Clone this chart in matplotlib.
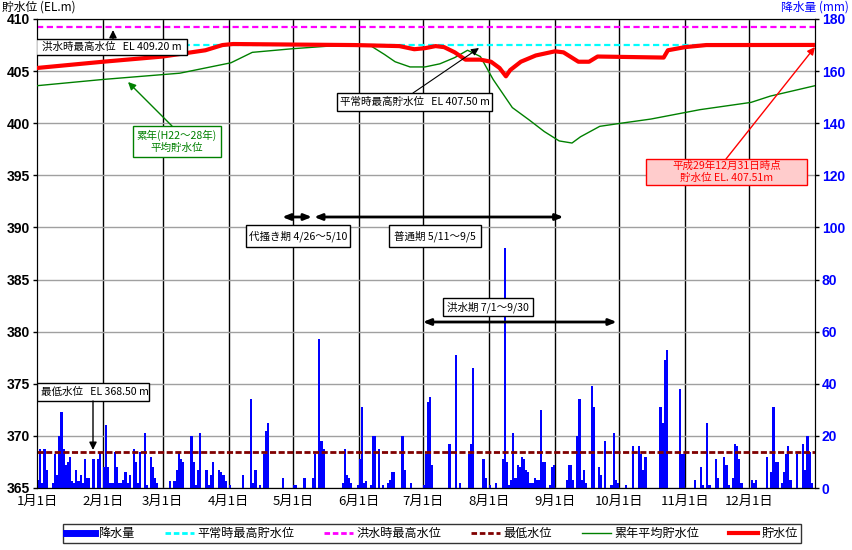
import matplotlib
matplotlib.use('Agg')
import matplotlib.pyplot as plt
from matplotlib.lines import Line2D
from matplotlib.patches import Rectangle
import numpy as np

plt.rcParams['font.family'] = ['Noto Sans CJK JP', 'DejaVu Sans']

# ---------------- data ----------------
month_starts = [0, 31, 59, 90, 120, 151, 181, 212, 243, 273, 304, 334]
month_labels = ['1月1日', '2月1日', '3月1日', '4月1日', '5月1日', '6月1日',
                '7月1日', '8月1日', '9月1日', '10月1日', '11月1日', '12月1日']

# daily rainfall (day of year, mm)
rain_days = [1, 2, 3, 4, 5, 8, 9, 10, 11, 12, 13, 14, 15, 16, 17, 18, 19, 20, 21, 22, 23, 24, 25, 27, 29, 30,
             32, 33, 34, 35, 36, 37, 38, 39, 40, 41, 42, 43, 44, 46, 47, 48, 49, 51, 52, 54, 55, 56, 57,
             63, 65, 66, 67, 68, 69, 73, 74, 75, 76, 77, 80, 81, 82, 83, 86, 87, 88, 89,
             91, 97, 101, 102, 103, 105, 107, 108, 109, 116,
             121, 122, 126, 130, 131, 133, 134, 135, 144, 145, 146, 147, 148, 151,
             152, 153, 154, 155, 157, 158, 159, 161, 163, 165, 166, 167, 168, 172, 173, 176,
             182, 183, 184, 185, 186, 194, 197, 199, 203, 204, 205, 210, 211,
             213, 216, 219, 220, 221, 222, 223, 224, 225, 226, 227, 228, 229, 230, 231, 232, 233, 234, 235,
             236, 237, 238, 239, 241, 242, 243,
             249, 250, 251, 252, 254, 255, 256, 257, 258, 261, 262, 264, 265, 267, 270, 271, 272, 273,
             277, 280, 283, 284, 285, 286, 293, 294, 295, 296, 302, 303, 304,
             309, 312, 313, 315, 316, 319, 320, 323, 324, 325, 327, 328, 329, 330, 331,
             336, 337, 338, 343, 345, 346, 347, 348, 350, 351, 352, 353, 354, 357, 360, 361, 362, 363, 364]
rain_mm = [3, 15, 2, 15, 7, 2, 13, 5, 20, 29, 15, 9, 10, 12, 2.5, 2, 7, 2.5, 5, 2, 11, 4, 4, 11, 11, 14,
           8, 24, 8, 2, 2, 14, 8, 2, 2, 3, 6, 2, 5, 15, 10, 2, 14, 21, 1, 12, 8, 4, 2,
           2.7, 2.7, 7, 13.5, 11, 10, 20, 10, 1, 7, 21, 7, 1, 5, 10, 7, 6, 5, 2.7,
           1, 5, 34, 2, 7, 1, 13, 22, 25, 4,
           1, 1, 4, 4, 13, 57, 18, 15, 2, 15, 5, 4, 2, 1,
           11, 31, 2, 2.7, 1, 20, 20, 15, 1, 2, 3, 6, 6, 20, 7, 2,
           1, 13, 33, 35, 9, 17, 51, 2, 13, 17, 46, 11, 4,
           1, 2, 11, 92, 10, 1, 3, 21, 4, 9, 8, 12, 11, 7, 6, 2, 2, 4, 3,
           3, 30, 10, 10, 1, 8, 9,
           3, 9, 9, 3, 20, 34, 3, 7, 2, 39, 31, 8, 5, 18, 1, 21, 3, 2,
           1, 16, 16, 13, 7, 12, 31, 25, 49, 53, 38, 13, 13,
           3, 8, 1, 25, 1, 11, 4, 12, 9, 1, 4, 17, 16, 11, 2,
           3, 2, 3, 12, 6, 31, 10, 10, 2, 6, 13, 16, 3, 13, 17, 7, 20, 14, 2]

# reservoir level (day of year, EL.m)
level_days = [1, 32, 60, 80, 88, 93, 120, 150, 171, 178, 183, 188, 192, 197, 202, 209, 214, 218, 221,
              223, 228, 235, 244, 248, 255, 260, 264, 295, 297, 305, 315, 365]
level_m = [405.3, 405.9, 406.4, 407.0, 407.5, 407.6, 407.55, 407.5, 407.4, 407.1, 407.2, 407.4, 407.3,
           406.8, 406.1, 406.1, 405.9, 405.3, 404.5, 405.1, 405.9, 406.5, 406.9, 406.8, 405.9, 405.9,
           406.4, 406.3, 407.0, 407.3, 407.5, 407.51]

# average level H22-28 (day of year, EL.m)
avg_days = [1, 32, 68, 92, 102, 121, 138, 157, 164, 169, 176, 183, 190, 197, 203, 209, 215, 224, 232,
            239, 246, 252, 256, 265, 275, 289, 312, 336, 345, 366]
avg_m = [403.6, 404.2, 404.8, 405.8, 406.8, 407.15, 407.4, 407.5, 406.6, 405.9, 405.4, 405.4, 405.7,
         406.3, 407.0, 406.4, 404.2, 401.5, 400.3, 399.2, 398.3, 398.1, 398.7, 399.7, 400.0, 400.4,
         401.3, 402.0, 402.6, 403.6]

normal_max = 407.50
flood_max = 409.20
min_level = 368.50

# ---------------- figure ----------------
fig = plt.figure(figsize=(8.52, 5.50), dpi=100)
ax = fig.add_axes([37 / 852, 1 - 488 / 550, 778 / 852, 469 / 550])
axr = ax.twinx()
ax.set_zorder(axr.get_zorder() + 1)
ax.patch.set_visible(False)

ax.set_xlim(0, 365)
ax.set_ylim(365, 410)
axr.set_ylim(0, 180)

# grid
axr.set_yticks(range(0, 181, 20))
axr.yaxis.grid(True, color='#a0a0a0', lw=1)
axr.set_axisbelow(True)
for m in month_starts[1:]:
    axr.axvline(m, color='black', lw=1, zorder=0.5)

# rainfall bars
axr.bar(np.array(rain_days) - 1, rain_mm, width=1.0, align='edge', color='#0000FF', lw=0, zorder=2)

# reference lines
ax.axhline(normal_max, color='#00FFFF', ls=(0, (2.8, 1.6)), lw=1.6, zorder=2)
ax.axhline(flood_max, color='#FF00FF', ls=(0, (2.8, 1.6)), lw=1.6, zorder=2)
ax.axhline(min_level, color='#800000', ls=(0, (2.2, 0.9)), lw=2, zorder=2)

# lines
ax.plot(np.array(avg_days) - 1, avg_m, color='#008000', lw=1, zorder=3)
ax.plot(np.array(level_days) - 1, level_m, color='#FF0000', lw=3, zorder=4)

# ticks
ax.set_yticks(range(365, 411, 5))
ax.set_yticklabels([str(v) for v in range(365, 411, 5)], fontweight='bold', fontsize=10,
                   family=['Liberation Sans'])
axr.set_yticklabels([str(v) for v in range(0, 181, 20)], fontweight='bold', fontsize=10,
                    color='#0000FF', family=['Liberation Sans'])
ax.set_xticks(month_starts)
ax.set_xticklabels(month_labels, fontsize=9.5)
ax.tick_params(axis='both', length=3, width=1, pad=2)
axr.tick_params(axis='y', length=3, width=1, pad=2)
ax.tick_params(axis='x', length=0, pad=5)

fig.text(2 / 852, 1 - 7.5 / 550, '貯水位 (EL.m)', fontsize=8.5, va='center', ha='left')
fig.text(849 / 852, 1 - 7 / 550, '降水量 (mm)', fontsize=8.5, va='center', ha='right', color='#0000FF')


def px2d(px, py):
    return (px - 37) / (778 / 365), 410 - (py - 19) * 45 / 469


def box(px0, py0, px1, py1, text, fc='white', ec='black', color='black', ha='center', tx=None, ls=1.2):
    x0, y1 = px2d(px0, py0)
    x1, y0 = px2d(px1, py1)
    ax.add_patch(Rectangle((x0, y0), x1 - x0, y1 - y0, fc=fc, ec=ec, lw=1, zorder=6))
    xc = (x0 + x1) / 2 if tx is None else px2d(tx, 0)[0]
    ax.text(xc, (y0 + y1) / 2, text, fontsize=7.6, ha=ha, va='center', color=color,
            linespacing=ls, zorder=7)


def arrow(pa, pb, color='black', lw=1, hl=0.45, hw=0.22):
    xa, ya = px2d(*pa)
    xb, yb = px2d(*pb)
    ax.annotate('', xy=(xb, yb), xytext=(xa, ya), zorder=6,
                arrowprops=dict(arrowstyle=f'-|>,head_length={hl},head_width={hw}', color=color, lw=lw,
                                shrinkA=0, shrinkB=0))


box(36, 39, 187, 55, '洪水時最高水位   EL 409.20 m', ha='left', tx=42)
arrow((113, 39), (113, 30))

box(337, 93, 492, 111, '平常時最高貯水位   EL 407.50 m')
arrow((413, 93), (479, 48), lw=0.8)

box(133, 126, 221, 157, '累年(H22～28年)\n平均貯水位', ec='#008000', color='#008000')
arrow((172, 126), (128, 82), color='#008000')

box(646, 159, 807, 185, '平成29年12月31日時点\n貯水位 EL. 407.51m', fc='#FFCCCC', ec='#FF0000',
    color='#FF0000')
arrow((726, 159), (815, 47), color='#FF0000')

box(37, 383, 149, 401, '最低水位   EL 368.50 m', ha='left', tx=41)
arrow((93, 401), (93, 450))

# period arrows
dbl = dict(arrowstyle='<|-|>,head_length=0.45,head_width=0.18', color='black', lw=2, shrinkA=0, shrinkB=0)
ya = px2d(0, 217)[1]
ax.annotate('', xy=(115, ya), xytext=(129, ya), arrowprops=dbl, zorder=6)
ax.annotate('', xy=(130, ya), xytext=(247, ya), arrowprops=dbl, zorder=6)
yb = px2d(0, 322)[1]
ax.annotate('', xy=(181, yb), xytext=(272, yb), arrowprops=dbl, zorder=6)

box(246, 225, 350, 247, '代掻き期 4/26～5/10')
box(389, 225, 481, 247, '普通期 5/11～9/5')
box(443, 298, 533, 316, '洪水期 7/1～9/30')

for sp in ax.spines.values():
    sp.set_color('black')

# legend
handles = [Line2D([], [], color='#0000FF', lw=5),
           Line2D([], [], color='#00FFFF', lw=2, ls=(0, (2, 1))),
           Line2D([], [], color='#FF00FF', lw=2, ls=(0, (2, 1))),
           Line2D([], [], color='#800000', lw=2, ls=(0, (2, 1))),
           Line2D([], [], color='#008000', lw=1),
           Line2D([], [], color='#FF0000', lw=3)]
labels = ['降水量', '平常時最高貯水位', '洪水時最高水位', '最低水位', '累年平均貯水位', '貯水位']
leg = fig.legend(handles, labels, loc='center', ncol=6, fontsize=8.7,
                 bbox_to_anchor=(432 / 852, 1 - 533.5 / 550), frameon=True, fancybox=False,
                 edgecolor='black', handlelength=2.4, handletextpad=0.25, columnspacing=2.5,
                 borderpad=0.25, borderaxespad=0)
leg.get_frame().set_linewidth(1)

fig.savefig('out.png', dpi=100)
